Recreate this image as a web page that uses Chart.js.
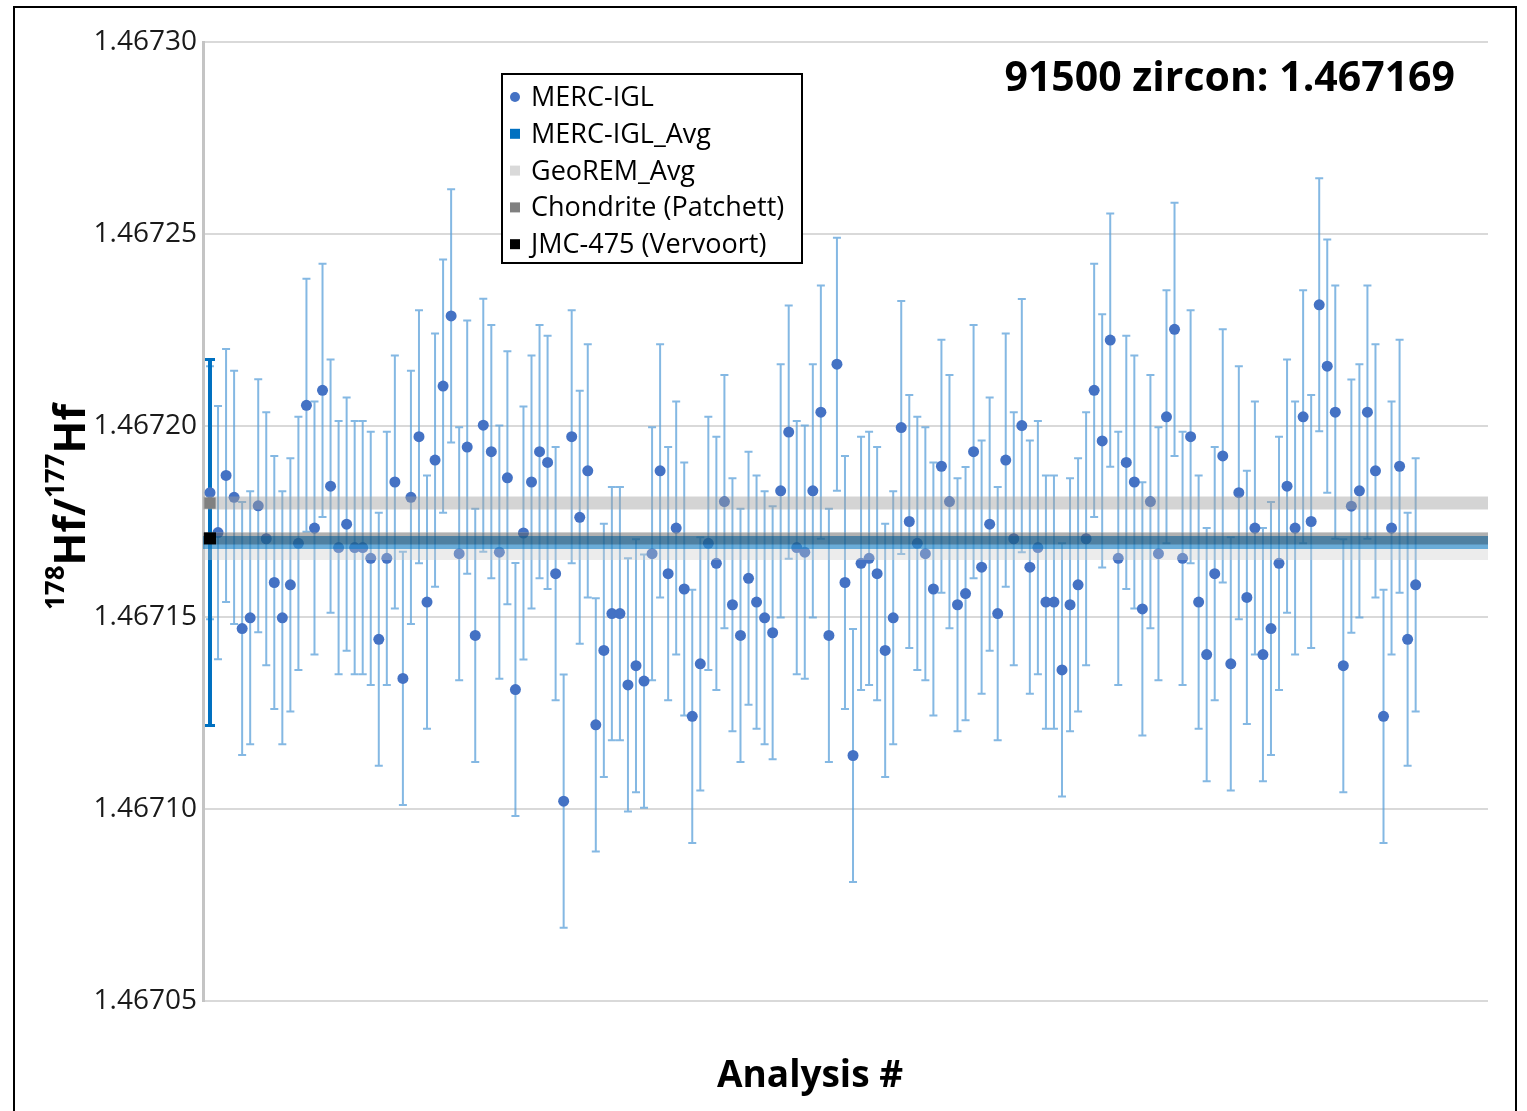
<!DOCTYPE html>
<html lang="en">
<head>
    <meta charset="UTF-8">
    <title>91500 zircon - 178Hf/177Hf</title>
    <script src="https://cdn.jsdelivr.net/npm/chart.js"></script>
    <style>
        html, body { margin: 0; padding: 0; background: #fff; }
    </style>
</head>
<body>
    <canvas id="hfChart" width="1527" height="1111"></canvas>

    <script>
        // 178Hf/177Hf of each MERC-IGL analysis
        const mercIgl = [
            1.4671825, 1.4671721, 1.4671870, 1.4671813, 1.4671471, 1.4671499, 1.4671791, 1.4671705, 1.4671591, 1.4671499,
            1.4671585, 1.4671693, 1.4672053, 1.4671733, 1.4672092, 1.4671842, 1.4671682, 1.4671743, 1.4671682, 1.4671682,
            1.4671654, 1.4671443, 1.4671654, 1.4671853, 1.4671341, 1.4671813, 1.4671971, 1.4671540, 1.4671910, 1.4672103,
            1.4672286, 1.4671666, 1.4671944, 1.4671453, 1.4672001, 1.4671932, 1.4671670, 1.4671864, 1.4671312, 1.4671720,
            1.4671853, 1.4671932, 1.4671904, 1.4671614, 1.4671021, 1.4671971, 1.4671761, 1.4671882, 1.4671220, 1.4671414,
            1.4671510, 1.4671510, 1.4671324, 1.4671374, 1.4671334, 1.4671666, 1.4671882, 1.4671614, 1.4671733, 1.4671574,
            1.4671242, 1.4671379, 1.4671693, 1.4671641, 1.4671802, 1.4671533, 1.4671453, 1.4671602, 1.4671540, 1.4671499,
            1.4671460, 1.4671830, 1.4671983, 1.4671682, 1.4671670, 1.4671830, 1.4672035, 1.4671453, 1.4672160, 1.4671591,
            1.4671140, 1.4671641, 1.4671654, 1.4671614, 1.4671414, 1.4671499, 1.4671995, 1.4671750, 1.4671693, 1.4671666,
            1.4671574, 1.4671894, 1.4671802, 1.4671533, 1.4671562, 1.4671932, 1.4671631, 1.4671743, 1.4671510, 1.4671910,
            1.4671705, 1.4672000, 1.4671631, 1.4671682, 1.4671540, 1.4671540, 1.4671363, 1.4671533, 1.4671585, 1.4671705,
            1.4672092, 1.4671960, 1.4672223, 1.4671654, 1.4671904, 1.4671853, 1.4671522, 1.4671802, 1.4671666, 1.4672023,
            1.4672251, 1.4671654, 1.4671971, 1.4671540, 1.4671403, 1.4671614, 1.4671921, 1.4671379, 1.4671825, 1.4671552,
            1.4671733, 1.4671403, 1.4671471, 1.4671641, 1.4671842, 1.4671733, 1.4672023, 1.4671750, 1.4672315, 1.4672155,
            1.4672035, 1.4671374, 1.4671790, 1.4671830, 1.4672035, 1.4671882, 1.4671242, 1.4671733, 1.4671894, 1.4671443,
            1.4671585
        ];
        const analysisNo = mercIgl.map((v, i) => i + 1);
        const mercErr = 0.000033;          // 2SE, same size on every analysis

        // reference values
        const mercAvg = 1.4671695;
        const mercAvgErr = 0.0000477;      // 2SD
        const geoRemAvg = 1.4671686;
        const chondrite = 1.4671798;
        const jmc475 = 1.4671706;

        const yTicks = [1.46705, 1.46710, 1.46715, 1.46720, 1.46725, 1.46730];
        const xMin = 0.13, xMax = 160;

        const fontFamily = '"Open Sans", "Noto Sans", sans-serif';
        Chart.defaults.font.family = fontFamily;

        // horizontal reference band across the whole plot, marker at analysis 1
        function refLine(value) {
            return [{x: xMin, y: value}, {x: 1, y: value}, {x: xMax, y: value}];
        }

        // error bars under the points
        const errorBars = {
            id: 'errorBars',
            beforeDatasetsDraw(chart) {
                const {ctx, scales: {x, y}} = chart;
                ctx.save();
                ctx.lineCap = 'butt';

                ctx.strokeStyle = 'rgba(91, 160, 218, 0.75)';
                ctx.lineWidth = 2;
                mercIgl.forEach((v, i) => {
                    const px = x.getPixelForValue(analysisNo[i]);
                    const top = y.getPixelForValue(v + mercErr);
                    const bot = y.getPixelForValue(v - mercErr);
                    ctx.beginPath();
                    ctx.moveTo(px, top); ctx.lineTo(px, bot);
                    ctx.moveTo(px - 4, top); ctx.lineTo(px + 4, top);
                    ctx.moveTo(px - 4, bot); ctx.lineTo(px + 4, bot);
                    ctx.stroke();
                });

                // average with its 2SD
                const ax = x.getPixelForValue(1);
                const at = y.getPixelForValue(mercAvg + mercAvgErr);
                const ab = y.getPixelForValue(mercAvg - mercAvgErr);
                ctx.strokeStyle = '#0070c0';
                ctx.lineWidth = 4;
                ctx.beginPath();
                ctx.moveTo(ax, at); ctx.lineTo(ax, ab);
                ctx.stroke();
                ctx.lineWidth = 3;
                ctx.beginPath();
                ctx.moveTo(ax - 5, at); ctx.lineTo(ax + 5, at);
                ctx.moveTo(ax - 5, ab); ctx.lineTo(ax + 5, ab);
                ctx.stroke();
                ctx.restore();
            }
        };

        // frame, axis titles, note and boxed legend
        const decorations = {
            id: 'decorations',
            afterDraw(chart) {
                const ctx = chart.ctx;
                ctx.save();

                ctx.strokeStyle = '#000';
                ctx.lineWidth = 2;
                ctx.strokeRect(14, 7, 1502, 1130);

                // 178Hf/177Hf
                const big = 'bold 43px ' + fontFamily;
                const small = 'bold 26px ' + fontFamily;
                const parts = [
                    {t: '178', sup: true}, {t: 'Hf'}, {t: '/'}, {t: '177', sup: true}, {t: 'Hf'}
                ];
                let total = 0;
                parts.forEach(p => {
                    ctx.font = p.sup ? small : big;
                    p.w = ctx.measureText(p.t).width;
                    total += p.w;
                });
                ctx.translate(85, 507);
                ctx.rotate(-Math.PI / 2);
                ctx.fillStyle = '#000';
                ctx.textBaseline = 'alphabetic';
                ctx.textAlign = 'left';
                let cx = -total / 2;
                parts.forEach(p => {
                    ctx.font = p.sup ? small : big;
                    ctx.fillText(p.t, cx, p.sup ? -21 : 0);
                    cx += p.w;
                });
                ctx.setTransform(1, 0, 0, 1, 0, 0);

                ctx.font = 'bold 37px ' + fontFamily;
                ctx.textAlign = 'center';
                ctx.fillText('Analysis #', 810, 1087);

                ctx.font = 'bold 41px ' + fontFamily;
                ctx.textAlign = 'right';
                ctx.fillText('91500 zircon: 1.467169', 1455, 91);

                // legend
                ctx.fillStyle = '#fff';
                ctx.fillRect(502, 74, 300, 189);
                ctx.strokeStyle = '#000';
                ctx.lineWidth = 2;
                ctx.strokeRect(502, 74, 300, 189);
                ctx.font = '27px ' + fontFamily;
                ctx.textAlign = 'left';
                chart.data.datasets.forEach((ds, i) => {
                    const base = 106 + i * 36.8;
                    const my = base - 9;
                    ctx.fillStyle = ds.legendColor;
                    if (ds.legendShape === 'circle') {
                        ctx.beginPath();
                        ctx.arc(515, my, 5, 0, Math.PI * 2);
                        ctx.fill();
                    } else {
                        ctx.fillRect(510, my - 5, 10, 10);
                    }
                    ctx.fillStyle = '#000';
                    ctx.fillText(ds.label, 531, base);
                });
                ctx.restore();
            }
        };

        const ctx = document.getElementById('hfChart').getContext('2d');
        const hfChart = new Chart(ctx, {
            type: 'scatter',
            data: {
                datasets: [
                    {
                        label: 'MERC-IGL',
                        data: mercIgl.map((v, i) => ({x: analysisNo[i], y: v})),
                        backgroundColor: '#4472c4',
                        borderWidth: 0,
                        pointRadius: 5.5,
                        order: 10,
                        legendShape: 'circle',
                        legendColor: '#4472c4'
                    },
                    {
                        label: 'MERC-IGL_Avg',
                        data: refLine(mercAvg),
                        showLine: true,
                        borderColor: 'rgba(0, 120, 200, 0.55)',
                        borderWidth: 13,
                        borderCapStyle: 'butt',
                        pointRadius: 0,
                        order: 2,
                        legendColor: '#0070c0'
                    },
                    {
                        label: 'GeoREM_Avg',
                        data: refLine(geoRemAvg),
                        showLine: true,
                        borderColor: 'rgba(200, 200, 200, 0.35)',
                        borderWidth: 28,
                        borderCapStyle: 'butt',
                        pointRadius: 0,
                        order: 4,
                        legendColor: '#d9d9d9'
                    },
                    {
                        label: 'Chondrite (Patchett)',
                        data: refLine(chondrite),
                        showLine: true,
                        borderColor: 'rgba(160, 160, 160, 0.45)',
                        borderWidth: 13,
                        borderCapStyle: 'butt',
                        pointRadius: [0, 8, 0],
                        pointStyle: 'rect',
                        pointBackgroundColor: '#808080',
                        pointBorderWidth: 0,
                        order: 3,
                        legendColor: '#808080'
                    },
                    {
                        label: 'JMC-475 (Vervoort)',
                        data: refLine(jmc475),
                        showLine: true,
                        borderColor: 'rgba(0, 0, 0, 0.25)',
                        borderWidth: 12,
                        borderCapStyle: 'butt',
                        pointRadius: [0, 8.5, 0],
                        pointStyle: 'rect',
                        pointBackgroundColor: '#000',
                        pointBorderWidth: 0,
                        order: 1,
                        legendColor: '#000'
                    }
                ]
            },
            options: {
                responsive: false,
                animation: false,
                devicePixelRatio: 1,
                layout: {
                    padding: {top: 42, right: 39, left: 0, bottom: 0}
                },
                plugins: {
                    legend: {display: false},
                    tooltip: {enabled: false}
                },
                scales: {
                    x: {
                        type: 'linear',
                        min: xMin,
                        max: xMax,
                        ticks: {display: false},
                        grid: {display: false},
                        border: {display: false},
                        afterFit(scale) { scale.height = 110; }
                    },
                    y: {
                        min: 1.46705,
                        max: 1.46730,
                        afterBuildTicks(scale) {
                            scale.ticks = yTicks.map(v => ({value: v}));
                        },
                        ticks: {
                            color: '#1a1a1a',
                            font: {size: 28},
                            padding: 6,
                            callback: v => v.toFixed(5)
                        },
                        grid: {
                            color: '#d9d9d9',
                            lineWidth: 2,
                            drawTicks: false
                        },
                        border: {color: '#c4c4c4', width: 3},
                        afterFit(scale) { scale.width = 203; }
                    }
                }
            },
            plugins: [errorBars, decorations]
        });
    </script>
</body>
</html>
